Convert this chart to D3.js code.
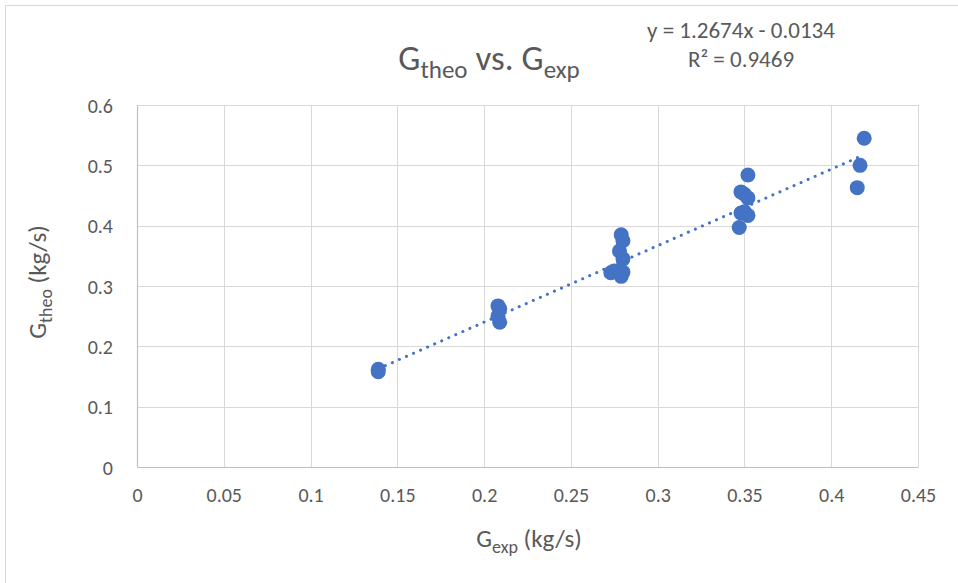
<!DOCTYPE html>
<html>
<head>
<meta charset="utf-8">
<script src="https://cdn.jsdelivr.net/npm/d3@7"></script>
<style>
  body { margin: 0; background: #fff; }
  text { font-family: Carlito, Calibri, "Liberation Sans", sans-serif; fill: #595959; }
</style>
</head>
<body>
<div id="chart"></div>
<script>
// measured vs theoretical mass flow (kg/s)
var gExp = [0.139, 0.139,
  0.208, 0.209, 0.208, 0.209,
  0.279, 0.280, 0.278, 0.280, 0.273, 0.275, 0.279, 0.280,
  0.352, 0.348, 0.350, 0.352, 0.348, 0.350, 0.352, 0.347,
  0.419, 0.4166, 0.415];
var gTheo = [0.158, 0.162,
  0.267, 0.262, 0.250, 0.240,
  0.385, 0.375, 0.358, 0.345, 0.322, 0.325, 0.316, 0.323,
  0.484, 0.456, 0.452, 0.446, 0.421, 0.423, 0.417, 0.397,
  0.545, 0.500, 0.463];
var xTicks = [0, 0.05, 0.1, 0.15, 0.2, 0.25, 0.3, 0.35, 0.4, 0.45];
var yTicks = [0, 0.1, 0.2, 0.3, 0.4, 0.5, 0.6];
var slope = 1.2674, intercept = -0.0134, r2 = 0.9469;

var width = 958, height = 583;
var margin = {top: 105, right: 40, bottom: 116, left: 137};
var w = 918 - margin.left, h = 467 - margin.top;

var svg = d3.select("#chart").append("svg")
  .attr("width", width)
  .attr("height", height);

// outer chart frame (runs off the right / bottom edge)
svg.append("rect")
  .attr("x", 5.5).attr("y", 5.5)
  .attr("width", 1000).attr("height", 1000)
  .attr("fill", "none")
  .attr("stroke", "#d9d9d9");

var g = svg.append("g")
  .attr("transform", "translate(" + margin.left + "," + margin.top + ")");

var x = d3.scaleLinear().domain([0, 0.45]).range([0, w]);
var y = d3.scaleLinear().domain([0, 0.6]).range([h, 0]);

// gridlines
g.selectAll(".vgrid").data(xTicks.slice(1))
  .enter().append("line")
  .attr("x1", d => Math.round(x(d)) + 0.5).attr("x2", d => Math.round(x(d)) + 0.5)
  .attr("y1", 0).attr("y2", h)
  .attr("stroke", "#d9d9d9").attr("stroke-width", 1);
g.selectAll(".hgrid").data(yTicks.slice(1))
  .enter().append("line")
  .attr("x1", 0).attr("x2", w)
  .attr("y1", d => Math.round(y(d)) + 0.5).attr("y2", d => Math.round(y(d)) + 0.5)
  .attr("stroke", "#d9d9d9").attr("stroke-width", 1);

// axes
var xAxis = g.append("g")
  .attr("transform", "translate(0," + h + ")")
  .call(d3.axisBottom(x).tickValues(xTicks).tickSize(0).tickPadding(21).tickFormat(d => String(d)));
var yAxis = g.append("g")
  .call(d3.axisLeft(y).tickValues(yTicks).tickSize(0).tickPadding(24).tickFormat(d => String(d)));
[xAxis, yAxis].forEach(a => {
  a.select(".domain").attr("stroke", "#bfbfbf").attr("stroke-width", 1.2);
  a.selectAll("text").style("font-size", "20px").attr("fill", "#595959");
});
yAxis.selectAll("text").attr("dy", "0.35em");

// trendline
var xMin = d3.min(gExp), xMax = d3.max(gExp);
g.append("line")
  .attr("x1", x(xMin)).attr("y1", y(slope * xMin + intercept))
  .attr("x2", x(xMax)).attr("y2", y(slope * xMax + intercept))
  .attr("stroke", "#4472c4")
  .attr("stroke-width", 3)
  .attr("stroke-linecap", "round")
  .attr("stroke-dasharray", "0.1 7.6");

// points
g.selectAll(".dot").data(gExp)
  .enter().append("circle")
  .attr("cx", d => x(d))
  .attr("cy", (d, i) => y(gTheo[i]))
  .attr("r", 7.5)
  .attr("fill", "#4472c4");

// title
var title = svg.append("text")
  .attr("x", 489).attr("y", 70)
  .attr("text-anchor", "middle")
  .style("font-size", "35px");
title.append("tspan").text("G");
title.append("tspan").attr("dy", 8).style("font-size", "25px").text("theo");
title.append("tspan").attr("dy", -8).text(" vs. G");
title.append("tspan").attr("dy", 8).style("font-size", "25px").text("exp");

// trendline label
svg.append("text")
  .attr("x", 741).attr("y", 38)
  .attr("text-anchor", "middle")
  .style("font-size", "23px")
  .text("y = " + slope + "x - " + Math.abs(intercept));
svg.append("text")
  .attr("x", 741).attr("y", 67)
  .attr("text-anchor", "middle")
  .style("font-size", "23px")
  .text("R² = " + r2);

// x axis title
var xt = svg.append("text")
  .attr("x", 529).attr("y", 547)
  .attr("text-anchor", "middle")
  .style("font-size", "25px");
xt.append("tspan").text("G");
xt.append("tspan").attr("dy", 6).style("font-size", "18px").text("exp");
xt.append("tspan").attr("dy", -6).text(" (kg/s)");

// y axis title
var yt = svg.append("text")
  .attr("transform", "translate(46,282) rotate(-90)")
  .attr("text-anchor", "middle")
  .style("font-size", "25px");
yt.append("tspan").text("G");
yt.append("tspan").attr("dy", 6).style("font-size", "18px").text("theo");
yt.append("tspan").attr("dy", -6).text(" (kg/s)");
</script>
</body>
</html>
